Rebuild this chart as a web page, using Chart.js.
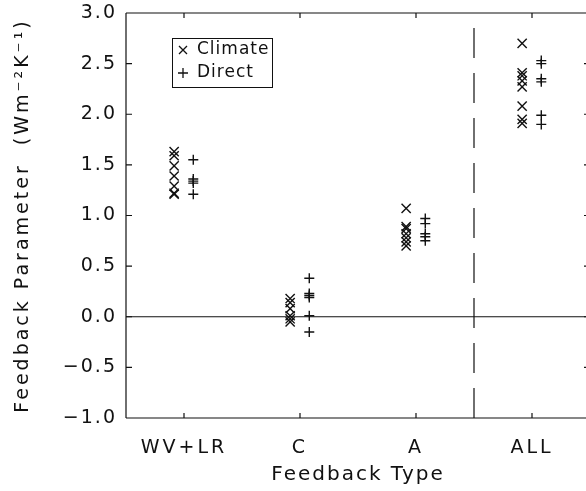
<!DOCTYPE html>
<html>
<head>
<meta charset="utf-8">
<script src="https://cdn.jsdelivr.net/npm/chart.js@4"></script>
<style>
html,body{margin:0;padding:0;background:#fff;overflow:hidden;}
#wrap{width:600px;height:491px;}
</style>
</head>
<body>
<div id="wrap"><canvas id="c" width="600" height="491"></canvas></div>
<script>
// ---- data ----
const categories = ["WV+LR", "C", "A", "ALL"];
const categoryPositions = [0.5, 1.5, 2.5, 3.5];
const climateOffset = -0.085;
const directOffset = 0.08;
const climateWVLR = [1.63, 1.59, 1.49, 1.39, 1.29, 1.22, 1.21];
const climateC    = [0.18, 0.14, 0.08, 0.01, -0.02, -0.05];
const climateA    = [1.07, 0.89, 0.87, 0.82, 0.78, 0.74, 0.70];
const climateALL  = [2.70, 2.41, 2.38, 2.33, 2.27, 2.08, 1.95, 1.91];
const directWVLR  = [1.55, 1.36, 1.34, 1.32, 1.21];
const directC     = [0.38, 0.23, 0.21, 0.19, 0.01, -0.15];
const directA     = [0.97, 0.92, 0.82, 0.79, 0.75];
const directALL   = [2.53, 2.50, 2.35, 2.32, 1.99, 1.90];
const yTicks = [-1.0, -0.5, 0.0, 0.5, 1.0, 1.5, 2.0, 2.5, 3.0];
const zeroLine = [0, 0];
const dividerX = 3;

const climateSets = [climateWVLR, climateC, climateA, climateALL];
const directSets = [directWVLR, directC, directA, directALL];
function toPoints(sets, off){
  const pts = [];
  sets.forEach((vals, i) => vals.forEach(v => pts.push({x: categoryPositions[i] + off, y: v})));
  return pts;
}

const INK = '#111';
const FONT = '"DejaVu Sans", sans-serif';

function spaced(scale, method, spacing){
  const orig = scale[method];
  if (orig.__spaced) return;
  const fn = function(...args){
    const ctx = this.ctx;
    const prev = ctx.letterSpacing;
    ctx.letterSpacing = spacing;
    orig.apply(this, args);
    ctx.letterSpacing = prev;
  };
  fn.__spaced = true;
  scale[method] = fn;
}

const frame = {
  id: 'frame',
  afterLayout(chart){
    const {x, y} = chart.scales;
    spaced(x, 'drawLabels', '3px');
    spaced(x, 'drawTitle', '2px');
    spaced(y, 'drawLabels', '2px');
    spaced(y, 'drawTitle', '3px');
  },
  afterDraw(chart){
    const {ctx, chartArea: a, scales: {x, y}} = chart;
    ctx.save();
    ctx.strokeStyle = INK;
    ctx.lineWidth = 1.2;
    ctx.beginPath();
    ctx.moveTo(a.left, a.top); ctx.lineTo(a.right, a.top);
    ctx.moveTo(a.left, a.bottom); ctx.lineTo(a.right, a.bottom);
    ctx.moveTo(a.left, a.top); ctx.lineTo(a.left, a.bottom);
    ctx.moveTo(a.right, a.top); ctx.lineTo(a.right, a.bottom);
    yTicks.forEach(v => {
      const py = y.getPixelForValue(v);
      ctx.moveTo(a.left, py); ctx.lineTo(a.left + 6, py);
      ctx.moveTo(a.right, py); ctx.lineTo(a.right - 6, py);
    });
    categoryPositions.forEach(v => {
      const px = x.getPixelForValue(v);
      ctx.moveTo(px, a.bottom); ctx.lineTo(px, a.bottom - 5);
      ctx.moveTo(px, a.top); ctx.lineTo(px, a.top + 5);
    });
    ctx.stroke();
    // legend box
    const lx = 172, ly = 38, lw = 100, lh = 49;
    ctx.lineWidth = 1;
    ctx.strokeRect(lx + 0.5, ly + 0.5, lw, lh);
    ctx.lineWidth = 1.3;
    ctx.beginPath();
    const s = 4;
    ctx.moveTo(183 - s, 50 - s); ctx.lineTo(183 + s, 50 + s);
    ctx.moveTo(183 - s, 50 + s); ctx.lineTo(183 + s, 50 - s);
    ctx.moveTo(183 - 5, 73); ctx.lineTo(183 + 5, 73);
    ctx.moveTo(183, 73 - 5); ctx.lineTo(183, 73 + 5);
    ctx.stroke();
    ctx.fillStyle = INK;
    ctx.font = '17px ' + FONT;
    ctx.letterSpacing = '1px';
    ctx.textBaseline = 'middle';
    ctx.textAlign = 'left';
    ctx.fillText('Climate', 197, 50);
    ctx.fillText('Direct', 197, 73);
    ctx.restore();
  }
};

new Chart(document.getElementById('c'), {
  type: 'scatter',
  data: {
    datasets: [
      { label: 'Climate', data: toPoints(climateSets, climateOffset), pointStyle: 'crossRot', pointRadius: 6.5, pointBorderWidth: 1.4, borderColor: INK, backgroundColor: INK, showLine: false },
      { label: 'Direct', data: toPoints(directSets, directOffset), pointStyle: 'cross', pointRadius: 5, pointBorderWidth: 1.4, borderColor: INK, backgroundColor: INK, showLine: false },
      { label: 'zero', data: [{x: 0, y: zeroLine[0]}, {x: 4, y: zeroLine[1]}], showLine: true, borderColor: INK, borderWidth: 1.2, pointRadius: 0 },
      { label: 'divider', data: [{x: dividerX, y: -1}, {x: dividerX, y: 3}], showLine: true, borderColor: INK, borderWidth: 1.2, borderDash: [30, 15], pointRadius: 0 }
    ]
  },
  options: {
    responsive: false,
    animation: false,
    devicePixelRatio: 1,
    layout: { padding: { top: 13, right: 10, left: 0, bottom: 0 } },
    plugins: { legend: { display: false }, tooltip: { enabled: false } },
    scales: {
      x: {
        type: 'linear', min: 0, max: 4,
        grid: { display: false, drawTicks: false },
        border: { display: false },
        afterBuildTicks: s => { s.ticks = categoryPositions.map(v => ({value: v})); },
        afterFit: s => { s.height = 73; s.paddingLeft = 0; s.paddingRight = 0; },
        ticks: { callback: (v) => categories[categoryPositions.indexOf(v)], color: INK, font: { family: FONT, size: 19 }, padding: 19, maxRotation: 0, autoSkip: false },
        title: { display: true, text: 'Feedback Type', color: INK, font: { family: FONT, size: 20 }, padding: { top: 0, bottom: 4 } }
      },
      y: {
        type: 'linear', min: -1, max: 3,
        grid: { display: false, drawTicks: false },
        border: { display: false },
        afterBuildTicks: s => { s.ticks = yTicks.map(v => ({value: v})); },
        afterFit: s => { s.width = 126; s.paddingTop = 0; s.paddingBottom = 0; },
        ticks: { callback: v => (v < 0 ? '\u2212' : '') + Math.abs(v).toFixed(1), color: INK, font: { family: FONT, size: 19 }, padding: 9, autoSkip: false },
        title: { display: true, text: 'Feedback Parameter  (Wm\u207B\u00B2K\u207B\u00B9)', color: INK, font: { family: FONT, size: 19 }, padding: { top: 12, bottom: 0 } }
      }
    }
  },
  plugins: [frame]
});
</script>
</body>
</html>
